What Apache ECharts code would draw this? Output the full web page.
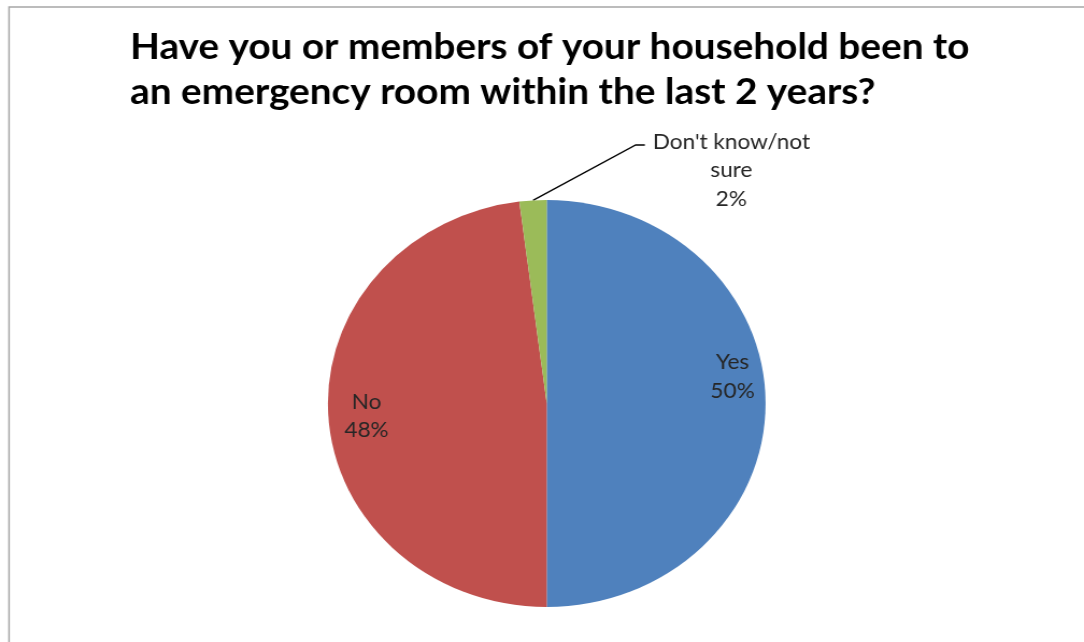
<!DOCTYPE html>
<html>
<head>
<meta charset="utf-8">
<script src="https://cdn.jsdelivr.net/npm/echarts@6/dist/echarts.min.js"></script>
<style>
  html, body { margin: 0; padding: 0; background: #fff; overflow: hidden; }
  #wrap { width: 1084px; height: 642px; overflow: hidden; }
  /* the chart is drawn slightly narrower and widened, giving the oval pie */
  #chart { width: 1008px; height: 642px; transform: scaleX(1.0754); transform-origin: 0 0; }
</style>
</head>
<body>
<div id="wrap"><div id="chart"></div></div>
<script>
const titleLines = [
  'Have you or members of your household been to',
  'an emergency room within the last 2 years?'
];
const categories = ['Yes', 'No', "Don't know/not sure"];
const labelNames = ['Yes', 'No', "Don't know/not\nsure"];
const shares = [50, 48, 2];

const chart = echarts.init(document.getElementById('chart'), null, { renderer: 'canvas' });

const sliceColors = ['#4F81BD', '#C0504D', '#9BBB59'];

const data = categories.map((name, i) => {
  const item = { name: name, value: shares[i], itemStyle: { color: sliceColors[i] } };
  if (i === 2) {
    item.label = { position: 'outside' };
    item.labelLine = { show: true };
  }
  return item;
});

chart.setOption({
  animation: false,
  backgroundColor: '#ffffff',
  title: {
    text: titleLines.join('\n'),
    left: 121,
    top: 25,
    padding: 0,
    textStyle: {
      fontFamily: 'Lato',
      fontWeight: 'bold',
      fontSize: 36,
      lineHeight: 45,
      color: '#000000'
    }
  },
  graphic: [{
    type: 'rect',
    silent: true,
    shape: { x: 8.4, y: 7, width: 1100, height: 700 },
    style: { fill: 'none', stroke: '#A6A6A6', lineWidth: 1.5 }
  }],
  series: [{
    type: 'pie',
    center: [508.4, 403.5],
    radius: 203.5,
    startAngle: 90,
    clockwise: true,
    avoidLabelOverlap: false,
    itemStyle: { borderWidth: 0 },
    label: {
      show: true,
      position: 'inside',
      formatter: p => labelNames[p.dataIndex] + '\n' + p.value + '%',
      fontFamily: 'Lato',
      fontSize: 21,
      lineHeight: 28.5,
      color: '#262626',
      align: 'center'
    },
    labelLine: {
      show: false,
      length: 20,
      length2: 10,
      lineStyle: { color: '#000000', width: 1.3 }
    },
    labelLayout: function (p) {
      if (p.dataIndex === 0) return { dx: 68, dy: -27 };
      if (p.dataIndex === 1) return { dx: -63, dy: 6 };
      const s = p.labelLinePoints ? p.labelLinePoints[0] : null;
      if (!s) return {};
      const elbow = [s[0] + 95.5, s[1] - 55.4];
      const end = [s[0] + 104, s[1] - 55.4];
      return {
        x: s[0] + 184.5,
        y: s[1] - 30,
        align: 'center',
        verticalAlign: 'middle',
        labelLinePoints: [s, elbow, end]
      };
    },
    emphasis: { disabled: true },
    data: data
  }]
});
</script>
</body>
</html>
